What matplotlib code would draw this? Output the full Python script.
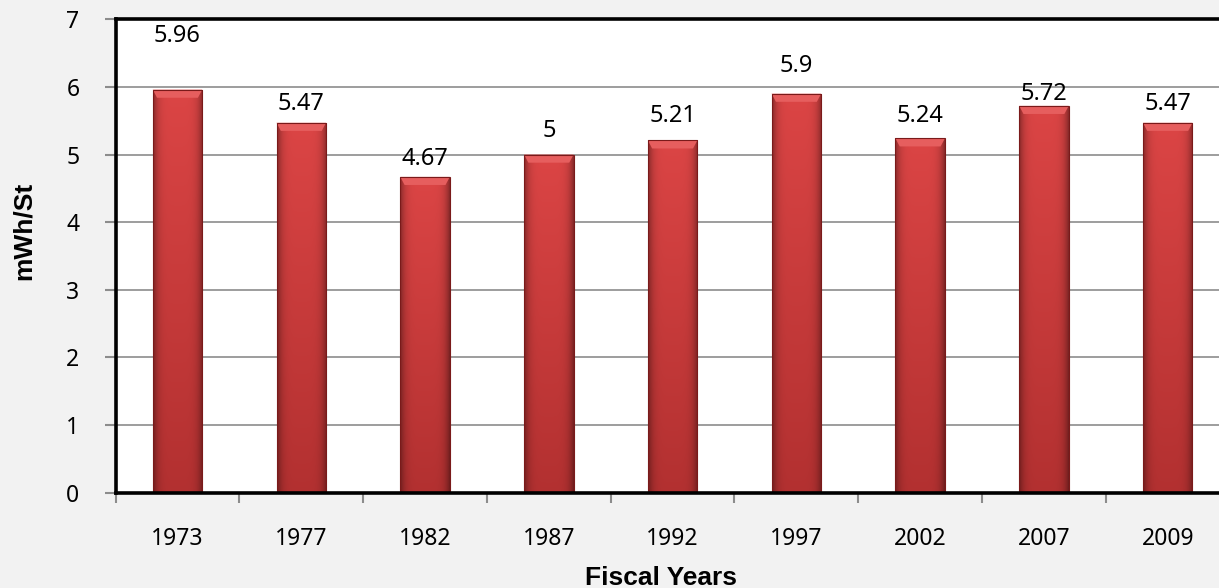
import numpy as np
import matplotlib.pyplot as plt
from matplotlib.patches import Polygon, Rectangle
from matplotlib.ticker import FixedLocator

# data
years = ['1973', '1977', '1982', '1987', '1992', '1997', '2002', '2007', '2009']
values = [5.96, 5.47, 4.67, 5, 5.21, 5.9, 5.24, 5.72, 5.47]
value_labels = ['5.96', '5.47', '4.67', '5', '5.21', '5.9', '5.24', '5.72', '5.47']
# where the value labels sit (data units) - excel placed them unevenly
label_pos = [6.75, 5.75, 4.93, 5.35, 5.57, 6.31, 5.57, 5.89, 5.75]

BG = '#F2F2F2'
TICK_FONT = 'Noto Sans'


def bar_image(n=120, m=60):
    # shaded cylinder-ish bar: darker at the sides and toward the bottom
    u = np.linspace(0, 1, m)
    v = np.linspace(0, 1, n)[:, None]
    side = 1 - 0.38 * np.abs(2 * u - 1) ** 5
    top = np.array([0.86, 0.27, 0.27])
    bot = np.array([0.70, 0.19, 0.19])
    col = top * (1 - v[..., None]) + bot * v[..., None]
    img = col * side[None, :, None]
    return np.clip(img, 0, 1)


fig = plt.figure(figsize=(12.19, 5.88), dpi=100, facecolor=BG)
ax = fig.add_axes([115.6 / 1219, (588 - 492.7) / 588, 1114 / 1219, 473.4 / 588])
ax.set_facecolor('white')

x = np.arange(len(years))
width = 0.40
img = bar_image()
bars = ax.bar(x, values, width=width, color='none', edgecolor='none', zorder=3)
for b, val in zip(bars, values):
    x0 = b.get_x()
    im = ax.imshow(img, extent=[x0, x0 + width, 0, val], aspect='auto',
                   zorder=3, interpolation='bilinear')
    im.set_clip_path(b)
    # light bevel at the top of each bar
    bev = 0.12
    dx = 0.035
    ax.add_patch(Polygon([[x0, val], [x0 + width, val],
                          [x0 + width - dx, val - bev], [x0 + dx, val - bev]],
                         closed=True, facecolor='#E65E5E', edgecolor='none',
                         zorder=4))
    ax.add_patch(Rectangle((x0, 0), width, val, facecolor='none',
                           edgecolor='#7A1A1A', linewidth=0.8, zorder=5))

for xi, lab, ly in zip(x, value_labels, label_pos):
    ax.text(xi, ly, lab, ha='center', va='center', fontsize=17,
            family=TICK_FONT, color='black', zorder=6)

ax.set_xlim(-0.5, len(years) - 0.5)
ax.set_ylim(0, 7)
ax.set_yticks(range(0, 8))
ax.yaxis.grid(True, color='#8C8C8C', linewidth=1.2, zorder=1)
ax.set_axisbelow(True)

ax.set_xticks(x)
ax.set_xticklabels(years)
ax.xaxis.set_minor_locator(FixedLocator(np.arange(-0.5, len(years), 1.0)))
ax.tick_params(axis='x', which='major', length=0, pad=25)
ax.tick_params(axis='x', which='minor', length=7, width=1.5, color='#8C8C8C',
               direction='out')
ax.tick_params(axis='y', length=8, width=1.5, color='#8C8C8C', pad=18,
               direction='out')
for t in ax.get_xticklabels() + ax.get_yticklabels():
    t.set_fontsize(16.5)
    t.set_family(TICK_FONT)

for side in ['top', 'left', 'bottom', 'right']:
    ax.spines[side].set_color('black')
    ax.spines[side].set_linewidth(2.6)
    ax.spines[side].set_zorder(7)

fig.text(661 / 1219, 1 - 578 / 588, 'Fiscal Years', ha='center', va='center',
         fontsize=19, fontweight='bold', family='Liberation Sans')
fig.text(24 / 1219, 1 - 231 / 588, 'mWh/St', ha='center', va='center',
         rotation=90, fontsize=19, fontweight='bold', family='Liberation Sans')

fig.savefig('out.png', dpi=100, facecolor=BG)
